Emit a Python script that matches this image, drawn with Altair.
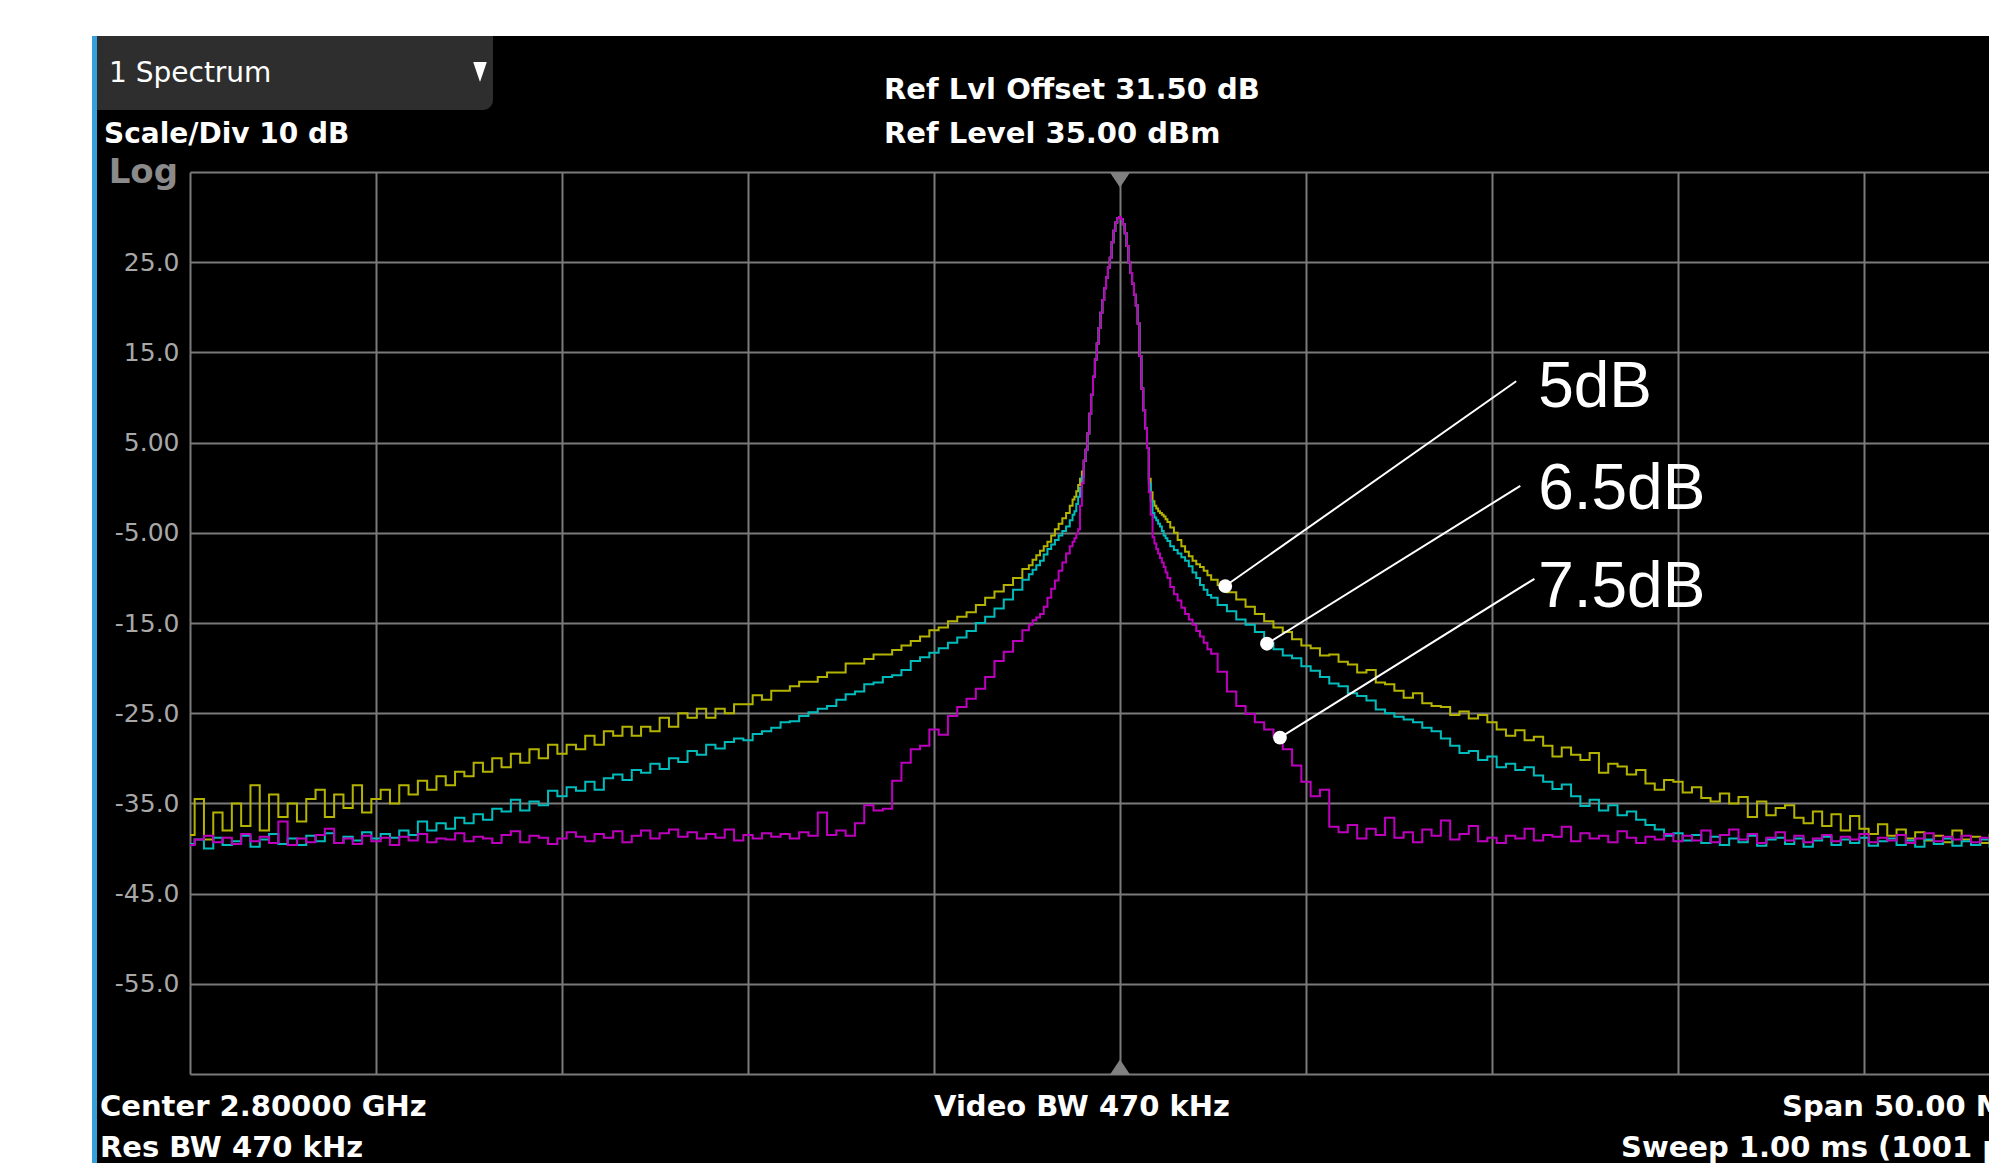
import altair as alt
import numpy as np
import pandas as pd

# ---------------- data ----------------
# frequency offset from the 2.80000 GHz centre, MHz
F_LEFT = np.round(np.arange(-25.0, -2.74, 0.25), 2)     # 90 points
F_ML = np.round(np.arange(-2.5, -1.29, 0.1), 2)         # 13 points
F_CORE = np.round(np.arange(-1.25, 1.2501, 0.05), 2)    # 51 points
F_MR = np.round(np.arange(1.3, 2.501, 0.1), 2)          # 13 points
F_RIGHT = np.round(np.arange(2.75, 25.001, 0.25), 2)    # 90 points

# carrier peak, common to the three traces (-0.95 ... +0.75 MHz)
PEAK = [3.0, 4.2, 6.0, 8.2, 10.3, 12.3, 14.2, 16.0, 17.7,
        19.4, 20.8, 22.1, 23.3, 24.4, 25.5, 27.2, 28.5, 29.4, 29.9,
        30.0, 29.8, 29.2, 28.2, 26.8, 25.0, 23.8, 22.6, 21.4, 20.2,
        18.2, 14.6, 11.0, 8.6, 6.6, 4.4]

# 5 dB trace (yellow)
YEL_L = [-38.5, -34.5, -39.0, -36.0, -38.0, -35.0, -37.5, -33.0, -38.0, -34.0,
         -36.5, -35.0, -37.0, -34.5, -33.5, -36.5, -34.0, -35.5, -33.0, -36.0,
         -34.5, -33.5, -35.0, -33.0, -34.0, -32.5, -33.5, -32.0, -33.0, -31.5,
         -32.0, -30.5, -31.5, -30.0, -31.0, -29.5, -30.5, -29.0, -30.0, -28.5,
         -29.5, -28.5, -29.0, -27.5, -28.5, -27.0, -27.5, -26.5, -27.5, -26.5,
         -27.0, -25.5, -26.5, -25.0, -25.5, -24.5, -25.5, -24.5, -25.0, -24.0,
         -24.0, -23.0, -23.5, -22.5, -22.5, -22.0, -21.5, -21.5, -21.0, -20.5,
         -20.5, -19.5, -19.5, -19.0, -18.5, -18.5, -18.0, -17.5, -17.0, -16.5,
         -15.8, -15.5, -14.8, -14.3, -13.8, -13.0, -12.2, -11.5, -10.8, -10.0]
YEL_ML = [-9.0, -8.6, -8.0, -7.5, -7.0, -6.5, -6.0, -5.3, -4.6, -4.0, -3.4, -2.8, -2.0]
YEL_CL = [-1.3, -1.0, -0.4, 0.3, 1.0, 1.8]
YEL_CR = [1.0, -0.5, -1.5, -2.0, -2.3, -2.6, -2.8, -3.0, -3.2, -3.5]
YEL_MR = [-3.8, -4.4, -5.0, -5.8, -6.5, -7.1, -7.6, -8.1, -8.5, -8.8, -9.2, -9.7, -10.2]
YEL_R = [-10.8, -11.6, -12.4, -13.2, -14.0, -14.8, -15.5, -16.0, -16.8, -17.5,
         -17.8, -18.6, -18.5, -19.3, -19.6, -20.5, -20.2, -21.6, -21.8, -22.5,
         -23.3, -22.8, -23.9, -24.2, -24.3, -25.2, -24.8, -25.6, -25.2, -26.0,
         -26.8, -27.5, -26.9, -28.0, -27.6, -28.6, -29.8, -28.8, -29.6, -30.2,
         -29.4, -31.6, -30.6, -30.9, -31.8, -31.3, -32.8, -33.5, -32.4, -32.6,
         -33.8, -33.2, -34.4, -34.8, -33.9, -35.0, -34.3, -36.5, -34.8, -36.3,
         -35.5, -35.2, -36.6, -37.2, -35.9, -37.5, -36.2, -38.0, -36.4, -37.8,
         -38.4, -37.3, -38.6, -37.9, -38.9, -38.2, -39.1, -38.6, -39.3, -38.0,
         -39.0, -38.7, -39.4, -38.5, -39.2, -38.8, -39.5, -38.9, -39.3, -39.0]

# 6.5 dB trace (cyan)
CYA_L = [-39.5, -39.0, -40.0, -38.8, -39.6, -39.2, -38.6, -39.8, -39.0, -38.4,
         -39.5, -38.9, -39.6, -38.6, -39.2, -38.3, -39.4, -38.7, -39.1, -38.2,
         -38.9, -38.4, -38.8, -38.0, -38.5, -37.0, -38.0, -37.2, -37.8, -36.6,
         -37.2, -36.2, -36.8, -35.6, -35.9, -34.6, -35.8, -34.8, -35.2, -33.6,
         -34.2, -33.2, -33.6, -32.6, -33.5, -32.2, -31.8, -32.4, -31.3, -31.6,
         -30.6, -31.2, -30.0, -30.4, -29.2, -29.6, -28.5, -28.9, -28.2, -27.8,
         -28.0, -27.3, -27.0, -26.6, -26.0, -25.9, -25.3, -24.9, -24.5, -24.2,
         -23.5, -22.9, -22.6, -21.8, -21.6, -21.0, -20.8, -20.2, -19.2, -18.8,
         -18.3, -17.8, -17.2, -16.6, -15.9, -15.0, -14.3, -13.4, -12.4, -11.3]
CYA_ML = [-10.2, -9.6, -9.1, -8.6, -8.1, -7.4, -6.8, -6.3, -5.8, -5.3, -4.8, -4.3, -3.6]
CYA_CL = [-3.0, -2.6, -1.8, -1.0, 0.0, 1.2]
CYA_CR = [0.5, -1.5, -2.8, -3.3, -3.6, -4.0, -4.3, -4.8, -5.3, -5.6]
CYA_MR = [-5.9, -6.5, -6.9, -7.3, -7.7, -8.1, -8.7, -9.4, -10.0, -10.8, -11.3, -11.9, -12.2]
CYA_R = [-13.0, -13.7, -14.6, -15.2, -16.0, -17.2, -17.9, -18.6, -18.9, -19.8,
         -20.3, -21.0, -21.7, -22.0, -22.8, -23.1, -23.6, -24.6, -25.0, -25.4,
         -25.7, -26.0, -26.6, -27.0, -27.8, -28.6, -29.4, -29.2, -30.2, -29.8,
         -31.0, -30.6, -31.3, -31.0, -31.9, -32.6, -33.4, -32.9, -34.2, -35.3,
         -34.6, -35.8, -35.2, -36.3, -35.9, -36.8, -37.4, -37.9, -38.6, -38.3,
         -39.1, -38.5, -39.4, -38.7, -39.6, -38.9, -39.3, -38.6, -39.7, -39.0,
         -38.8, -39.5, -38.9, -39.8, -39.1, -38.7, -39.6, -39.0, -39.4, -38.8,
         -39.7, -39.2, -38.9, -39.6, -39.1, -39.8, -39.0, -39.5, -38.9, -39.7,
         -39.2, -39.6, -39.0, -39.8, -39.3, -39.5, -39.0, -39.6, -39.2, -39.5]

# 7.5 dB trace (magenta)
MAG_L = [-39.6, -39.0, -38.6, -39.3, -38.8, -39.5, -38.4, -39.2, -38.7, -39.4,
         -37.0, -39.6, -38.9, -39.3, -38.5, -37.8, -39.4, -38.9, -39.5, -38.6,
         -39.2, -38.8, -39.6, -38.7, -39.1, -38.4, -39.3, -38.9, -39.0, -38.3,
         -39.2, -38.7, -38.9, -39.4, -38.5, -38.1, -39.3, -38.6, -38.8, -39.5,
         -38.9, -38.2, -38.7, -39.2, -38.4, -38.8, -38.1, -39.3, -38.6, -38.0,
         -38.9, -38.3, -37.9, -38.7, -38.2, -38.9, -38.4, -38.8, -37.9, -39.1,
         -38.5, -38.9, -38.3, -38.7, -38.4, -38.9, -38.2, -38.6, -36.0, -38.5,
         -38.0, -38.6, -37.2, -35.2, -35.8, -35.6, -32.5, -30.5, -29.0, -28.6,
         -26.8, -27.4, -25.3, -24.3, -23.4, -22.3, -21.0, -19.2, -18.2, -17.0]
MAG_ML = [-15.8, -15.2, -14.7, -14.4, -14.0, -13.2, -12.2, -11.2, -10.3, -9.2, -8.3, -7.3, -6.5]
MAG_CL = [-6.0, -5.6, -5.1, -4.6, -2.0, 0.5]
MAG_CR = [-0.5, -3.0, -5.5, -6.2, -6.8, -7.3, -7.8, -8.3, -8.8, -9.4]
MAG_MR = [-10.0, -11.0, -11.8, -12.5, -13.3, -14.0, -14.6, -15.2, -15.9, -16.5, -17.2, -17.9, -18.4]
MAG_R = [-20.4, -22.6, -24.2, -25.1, -26.0, -26.8, -27.6, -29.0, -30.8, -32.6,
         -34.2, -33.5, -37.6, -38.2, -37.4, -38.9, -37.8, -38.5, -36.6, -38.8,
         -38.2, -39.3, -37.9, -38.6, -36.9, -39.0, -38.4, -37.5, -39.2, -38.8,
         -39.4, -38.6, -38.9, -37.8, -39.1, -38.5, -38.7, -37.6, -39.2, -38.3,
         -38.9, -38.6, -39.3, -38.1, -38.8, -39.4, -38.7, -39.0, -38.4, -39.2,
         -38.6, -39.1, -38.0, -39.3, -38.5, -37.9, -39.0, -38.4, -39.4, -38.8,
         -38.2, -39.1, -38.6, -39.3, -38.9, -38.5, -39.2, -38.7, -39.0, -38.4,
         -39.3, -38.8, -39.1, -38.5, -39.4, -38.9, -38.3, -39.2, -38.7, -39.0,
         -38.6, -39.3, -38.8, -39.1, -38.5, -39.2, -38.9, -39.4, -38.7, -39.0]

TRACE_NAMES = ["5dB", "6.5dB", "7.5dB"]
TRACE_COLORS = ["#b4b400", "#00bcbc", "#bd00bd"]
TRACES = [YEL_L + YEL_ML + YEL_CL + PEAK + YEL_CR + YEL_MR + YEL_R,
          CYA_L + CYA_ML + CYA_CL + PEAK + CYA_CR + CYA_MR + CYA_R,
          MAG_L + MAG_ML + MAG_CL + PEAK + MAG_CR + MAG_MR + MAG_R]
FREQ = np.concatenate([F_LEFT, F_ML, F_CORE, F_MR, F_RIGHT])
for tr in TRACES:
    assert len(tr) == len(FREQ), (len(tr), len(FREQ))

# annotations: dot on the trace -> end of the leader line -> label
ANN_LABELS = ["5dB", "6.5dB", "7.5dB"]
ANN_DOT_F = [2.83, 3.95, 4.30]
ANN_DOT_LEVEL = [-10.9, -17.3, -27.7]
ANN_END_F = [10.65, 10.76, 11.14]
ANN_END_LEVEL = [11.8, 0.2, -10.1]
ANN_TEXT_F = [11.24, 11.24, 11.24]
ANN_TEXT_LEVEL = [9.0, -2.4, -13.2]

# axes
X_GRID = [-25, -20, -15, -10, -5, 0, 5, 10, 15, 20]
Y_TICKS = [35, 25, 15, 5, -5, -15, -25, -35, -45, -55, -65]
Y_LABELS = ["", "25.0", "15.0", "5.00", "-5.00", "-15.0", "-25.0", "-35.0",
            "-45.0", "-55.0", ""]
MARKER_F = [0, 0]
MARKER_LEVEL = [35, -65]

# ---------------- chart ----------------
GRID = "#7a7a7a"
W, H = 1799, 902

label_expr = "[" + ",".join("'%s'" % s for s in Y_LABELS) + "][indexof([" + \
    ",".join(str(v) for v in Y_TICKS) + "], datum.value)]"

X_ENC = alt.X("f:Q", scale=alt.Scale(domain=[-25, 23.36], nice=False, zero=False),
              axis=alt.Axis(values=X_GRID, grid=True, labels=False, ticks=False,
                            domain=False, title=None, gridColor=GRID, gridWidth=2,
                            gridOpacity=1))
Y_ENC = alt.Y("level:Q", scale=alt.Scale(domain=[-65, 35], nice=False, zero=False),
              axis=alt.Axis(values=Y_TICKS, grid=True, labelExpr=label_expr,
                            ticks=False, tickSize=0, domain=False, title=None,
                            labelColor="#a8a8a8", labelFont="DejaVu Sans",
                            labelFontSize=25, labelPadding=11, gridColor=GRID,
                            gridWidth=2, gridOpacity=1, labelOverlap=False))

one = alt.Data(values=[{"t": 0}])


def box(x, x2, y, y2, color, **kw):
    return alt.Chart(one).mark_rect(color=color, **kw).encode(
        x=alt.value(x), x2=alt.value(x2), y=alt.value(y), y2=alt.value(y2))


def label(text, x, y, size, weight="bold", color="white", align="left",
          font="DejaVu Sans"):
    return alt.Chart(alt.Data(values=[{"t": text}])).mark_text(
        align=align, baseline="alphabetic", font=font, fontSize=size,
        fontWeight=weight, color=color).encode(
        text="t:N", x=alt.value(x), y=alt.value(y))


layers = []
# page frame: white strip at the top and left, blue edge, spectrum tab
layers.append(box(-190, W, -172, -136, "white"))
layers.append(box(-190, -98, -136, H + 89, "white"))
layers.append(box(-98, -93, -136, H + 89, "#35a0da"))
layers.append(box(-93, 303, -136, -62, "#2e2e2e", cornerRadiusBottomRight=10))
layers.append(alt.Chart(one).mark_point(
    shape="M-0.68,-1L0.68,-1L0,1Z", filled=True, size=400, color="white",
    opacity=1).encode(x=alt.value(290), y=alt.value(-100)))

# header and footer texts
layers.append(label("1 Spectrum", -81, -90, 28, weight="normal"))
layers.append(label("Scale/Div 10 dB", -86, -29, 28))
layers.append(label("Ref Lvl Offset 31.50 dB", 694, -73, 29))
layers.append(label("Ref Level 35.00 dBm", 694, -29, 29))
layers.append(label("Log", -12, 11, 34, color="#8a8a8a", align="right"))
layers.append(label("Center 2.80000 GHz", -90, 944, 29))
layers.append(label("Res BW 470 kHz", -90, 985, 29))
layers.append(label("Video BW 470 kHz", 744, 944, 29))
layers.append(label("Span 50.00 MHz", 1592, 944, 29))
layers.append(label("Sweep 1.00 ms (1001 pts)", 1431, 985, 29))

# centre-frequency markers
mk = pd.DataFrame({"f": MARKER_F, "level": MARKER_LEVEL})
layers.append(alt.Chart(mk.iloc[[0]]).mark_point(
    shape="M-1,-0.75L1,-0.75L0,0.75Z", filled=True, size=400, color="#808080",
    opacity=1).encode(x=X_ENC, y=Y_ENC, yOffset=alt.value(8)))
layers.append(alt.Chart(mk.iloc[[1]]).mark_point(
    shape="M-1,0.75L1,0.75L0,-0.75Z", filled=True, size=400, color="#808080",
    opacity=1).encode(x=X_ENC, y=Y_ENC, yOffset=alt.value(-7)))

# spectrum traces
for name, color, vals in zip(TRACE_NAMES, TRACE_COLORS, TRACES):
    df = pd.DataFrame({"f": FREQ, "level": vals, "trace": name})
    layers.append(alt.Chart(df).mark_line(
        interpolate="step", strokeWidth=2, clip=True, color=color).encode(
        x=X_ENC, y=Y_ENC))

# annotations
ann = pd.DataFrame({"label": ANN_LABELS, "f": ANN_DOT_F, "level": ANN_DOT_LEVEL,
                    "f2": ANN_END_F, "level2": ANN_END_LEVEL})
ann_txt = pd.DataFrame({"label": ANN_LABELS, "f": ANN_TEXT_F,
                        "level": ANN_TEXT_LEVEL})
layers.append(alt.Chart(ann).mark_rule(color="white", strokeWidth=2).encode(
    x=X_ENC, y=Y_ENC, x2="f2:Q", y2="level2:Q"))
layers.append(alt.Chart(ann).mark_circle(color="white", size=190, opacity=1).encode(
    x=X_ENC, y=Y_ENC))
layers.append(alt.Chart(ann_txt).mark_text(
    align="left", baseline="alphabetic", font="Liberation Sans", fontSize=64,
    color="white").encode(x=X_ENC, y=Y_ENC, text="label:N"))

chart = alt.layer(*layers).properties(
    width=W, height=H, background="#000000",
    autosize=alt.AutoSizeParams(type="none"),
    padding={"left": 190, "top": 172, "right": 0, "bottom": 89},
).configure_view(strokeWidth=0)

chart.save("out.html", embed_options={"renderer": "svg", "actions": False})
